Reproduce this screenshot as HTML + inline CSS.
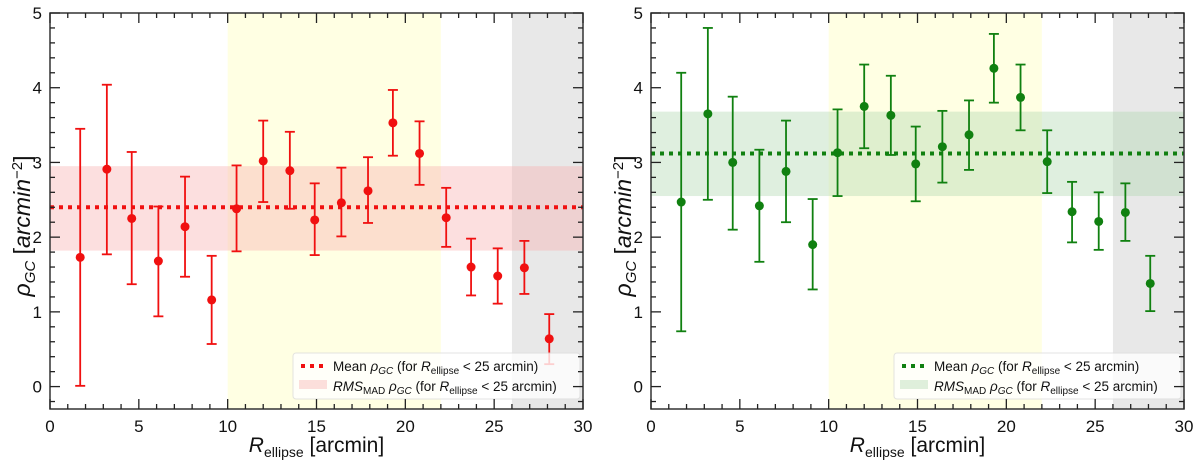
<!DOCTYPE html>
<html><head><meta charset="utf-8"><style>
body{margin:0;background:#fff;}
svg{display:block;font-family:"Liberation Sans",sans-serif;}
</style></head><body>
<svg id="c" width="1200" height="465" xmlns="http://www.w3.org/2000/svg"></svg>
<script>
const xVals=[1.7,3.2,4.6,6.1,7.6,9.1,10.5,12.0,13.5,14.9,16.4,17.9,19.3,20.8,22.3,23.7,25.2,26.7,28.1];
const leftY=[1.73,2.91,2.25,1.68,2.14,1.16,2.38,3.02,2.89,2.23,2.46,2.62,3.53,3.12,2.26,1.60,1.48,1.59,0.64];
const leftLo=[0.01,1.77,1.37,0.94,1.47,0.57,1.81,2.47,2.38,1.76,2.01,2.19,3.09,2.70,1.87,1.22,1.11,1.24,0.30];
const leftHi=[3.45,4.04,3.14,2.41,2.81,1.75,2.96,3.56,3.41,2.72,2.93,3.07,3.97,3.55,2.66,1.98,1.85,1.95,0.97];
const rightY=[2.47,3.65,3.00,2.42,2.88,1.90,3.13,3.75,3.63,2.98,3.21,3.37,4.26,3.87,3.01,2.34,2.21,2.33,1.38];
const rightLo=[0.74,2.50,2.10,1.67,2.20,1.30,2.55,3.19,3.10,2.48,2.73,2.90,3.80,3.43,2.59,1.93,1.83,1.95,1.01];
const rightHi=[4.20,4.80,3.88,3.17,3.56,2.51,3.71,4.31,4.16,3.48,3.69,3.83,4.72,4.31,3.43,2.74,2.60,2.72,1.75];
const leftStats=[2.40,1.82,2.95];
const rightStats=[3.12,2.55,3.68];
const xTicks=[0,5,10,15,20,25,30];
const yTicks=[0,1,2,3,4,5];
const NS="http://www.w3.org/2000/svg";
const svg=document.getElementById('c');
function el(t,a,p){const e=document.createElementNS(NS,t);for(const k in a)e.setAttribute(k,a[k]);(p||svg).appendChild(e);return e;}
function panel(x0,yv,lo,hi,st,col,band,name){
  const g=el('g',{});
  
  
  const x1=x0+533, yTop=13, yBot=409;
  const X=v=>x0+(v/30)*(x1-x0);
  const Y=v=>yBot-(v+0.3)/5.3*(yBot-yTop);
  let r=el('rect',{x:X(10),y:yTop,width:X(22)-X(10),height:yBot-yTop,fill:'#ffffe0',opacity:0.9},g);
  
  r=el('rect',{x:X(26),y:yTop,width:X(30)-X(26),height:yBot-yTop,fill:'#e8e8e8'},g);
  
  r=el('rect',{x:x0,y:Y(st[2]),width:x1-x0,height:Y(st[1])-Y(st[2]),fill:band,opacity:0.4},g);
  
  r=el('line',{x1:x0,x2:x1,y1:Y(st[0]),y2:Y(st[0]),stroke:col,'stroke-width':4,'stroke-dasharray':'4 5'},g);
  
  xVals.forEach((xv,i)=>{
    const cx=X(xv);
    const gg=el('g',{},g);
    
    el('line',{x1:cx,x2:cx,y1:Y(lo[i]),y2:Y(hi[i]),stroke:col,'stroke-width':1.8},gg);
    el('line',{x1:cx-5,x2:cx+5,y1:Y(lo[i]),y2:Y(lo[i]),stroke:col,'stroke-width':1.8},gg);
    el('line',{x1:cx-5,x2:cx+5,y1:Y(hi[i]),y2:Y(hi[i]),stroke:col,'stroke-width':1.8},gg);
    el('circle',{cx:cx,cy:Y(yv[i]),r:4.5,fill:col},gg);
  });
  const lx=x0+243, ly=353;
  const lg=el('g',{},g);
  
  el('rect',{x:lx,y:ly,width:287,height:46,rx:3,fill:'#fff',opacity:0.8,stroke:'#ddd'},lg);
  el('line',{x1:lx+8,x2:lx+34,y1:ly+13,y2:ly+13,stroke:col,'stroke-width':4,'stroke-dasharray':'4 5'},lg);
  el('rect',{x:lx+6,y:ly+27,width:28,height:9,fill:band,opacity:0.4},lg);
  let t=el('text',{x:lx+40,y:ly+18,'font-size':13.5,fill:'#111'},lg);
  t.innerHTML='Mean <tspan font-style="italic">ρ</tspan><tspan font-size="10" font-style="italic" dy="3">GC</tspan><tspan dy="-3"> (for </tspan><tspan font-style="italic">R</tspan><tspan font-size="10" dy="3">ellipse</tspan><tspan dy="-3"> &lt; 25 arcmin)</tspan>';
  t=el('text',{x:lx+40,y:ly+38,'font-size':13.5,fill:'#111'},lg);
  t.innerHTML='<tspan font-style="italic">RMS</tspan><tspan font-size="10" dy="3">MAD</tspan><tspan dy="-3" font-style="italic"> ρ</tspan><tspan font-size="10" font-style="italic" dy="3">GC</tspan><tspan dy="-3"> (for </tspan><tspan font-style="italic">R</tspan><tspan font-size="10" dy="3">ellipse</tspan><tspan dy="-3"> &lt; 25 arcmin)</tspan>';
  el('rect',{x:x0,y:yTop,width:x1-x0,height:yBot-yTop,fill:'none',stroke:'#333','stroke-width':1.5},g);
  for(let v=0;v<=30;v+=1){const maj=v%5===0;const x=X(v);
    el('line',{x1:x,x2:x,y1:yBot,y2:yBot-(maj?10:5),stroke:'#222','stroke-width':1.3},g);
    el('line',{x1:x,x2:x,y1:yTop,y2:yTop+(maj?10:5),stroke:'#222','stroke-width':1.3},g);}
  for(let v=-0.2;v<=5.001;v+=0.2){const vv=Math.round(v*10)/10;const maj=Math.abs(vv-Math.round(vv))<1e-6;const y=Y(vv);
    el('line',{x1:x0,x2:x0+(maj?10:5),y1:y,y2:y,stroke:'#222','stroke-width':1.3},g);
    el('line',{x1:x1,x2:x1-(maj?10:5),y1:y,y2:y,stroke:'#222','stroke-width':1.3},g);}
  xTicks.forEach(v=>{const t=el('text',{x:X(v),y:yBot+23,'font-size':17,'text-anchor':'middle',fill:'#111'},g);t.textContent=v;
    });
  yTicks.forEach(v=>{const t=el('text',{x:x0-8,y:Y(v)+6,'font-size':17,'text-anchor':'end',fill:'#111'},g);t.textContent=v;
    });
  t=el('text',{x:(x0+x1)/2,y:452,'font-size':21,'text-anchor':'middle',fill:'#111'},g);
  t.innerHTML='<tspan font-style="italic">R</tspan><tspan font-size="14" dy="5">ellipse</tspan><tspan dy="-5"> [arcmin]</tspan>';
  
  t=el('text',{x:0,y:0,'font-size':23,'text-anchor':'middle',fill:'#111',transform:`translate(${x0-20},${(yTop+yBot)/2+15}) rotate(-90)`},g);
  t.innerHTML='<tspan font-style="italic">ρ</tspan><tspan font-size="15" font-style="italic" dy="5">GC</tspan><tspan dy="-5"> [</tspan><tspan font-style="italic">arcmin</tspan><tspan font-size="15" dy="-8">−2</tspan><tspan dy="8">]</tspan>';
  
}
panel(50,leftY,leftLo,leftHi,leftStats,'#f01010','#f8b0b0','left-panel');
panel(651,rightY,rightLo,rightHi,rightStats,'#108010','#b0d8b0','right-panel');
</script>
</body></html>
